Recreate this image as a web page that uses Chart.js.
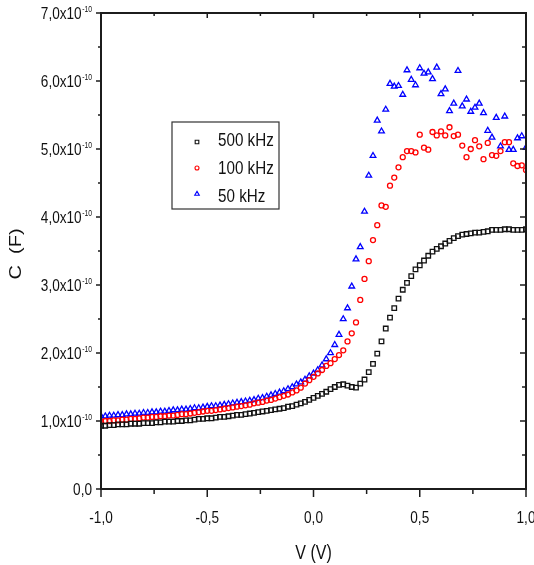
<!DOCTYPE html>
<html>
<head>
<meta charset="utf-8">
<script src="https://cdn.jsdelivr.net/npm/chart.js@4.4.1/dist/chart.umd.min.js"></script>
<style>
  html, body { margin: 0; padding: 0; background: #fff; }
  canvas { display: block; }
</style>
</head>
<body>
<canvas id="cv" width="534" height="565"></canvas>
<script>
// bias sweep: -1.0 V to 1.0 V in 0.02 V steps
var vStart = -1.0, vStep = 0.02, vCount = 101;

// capacitance, in units of 1e-10 F
var C500 = [
  0.93,0.93,0.94,0.94,0.95,0.95,0.95,0.96,0.96,0.96,
  0.97,0.97,0.97,0.98,0.98,0.99,0.99,0.99,1.00,1.00,
  1.01,1.01,1.02,1.03,1.03,1.04,1.04,1.05,1.06,1.06,
  1.07,1.08,1.09,1.09,1.10,1.11,1.12,1.13,1.14,1.15,
  1.16,1.17,1.18,1.19,1.21,1.22,1.24,1.26,1.28,1.31,
  1.34,1.37,1.40,1.43,1.47,1.50,1.53,1.54,1.52,1.50,
  1.49,1.55,1.61,1.72,1.84,1.99,2.17,2.36,2.52,2.66,
  2.80,2.93,3.03,3.13,3.23,3.29,3.36,3.43,3.49,3.53,
  3.57,3.61,3.65,3.69,3.72,3.74,3.75,3.76,3.77,3.77,
  3.78,3.79,3.81,3.81,3.81,3.82,3.82,3.81,3.81,3.81,3.82
];
var C100 = [
  0.99,1.00,1.00,1.01,1.01,1.02,1.02,1.03,1.03,1.04,
  1.05,1.05,1.06,1.06,1.07,1.07,1.08,1.08,1.09,1.10,
  1.10,1.11,1.12,1.13,1.14,1.15,1.15,1.16,1.17,1.18,
  1.19,1.20,1.21,1.22,1.23,1.24,1.26,1.27,1.28,1.30,
  1.31,1.33,1.35,1.37,1.39,1.42,1.45,1.49,1.55,1.60,
  1.65,1.70,1.75,1.81,1.85,1.91,1.97,2.04,2.17,2.29,
  2.45,2.78,3.09,3.35,3.66,3.88,4.17,4.15,4.46,4.58,
  4.73,4.88,4.97,4.97,4.95,5.21,5.02,4.99,5.25,5.20,
  5.26,5.20,5.32,5.19,5.21,5.05,4.88,5.00,5.13,5.04,
  4.85,5.09,4.91,4.90,4.97,5.10,5.10,4.79,4.75,4.76,4.69
];
var C50 = [
  1.07,1.07,1.08,1.08,1.09,1.09,1.10,1.10,1.11,1.11,
  1.12,1.12,1.13,1.13,1.14,1.14,1.15,1.16,1.16,1.17,
  1.17,1.18,1.19,1.19,1.20,1.21,1.22,1.22,1.23,1.24,
  1.25,1.26,1.27,1.28,1.29,1.30,1.31,1.33,1.34,1.36,
  1.38,1.40,1.42,1.44,1.47,1.50,1.54,1.57,1.61,1.66,
  1.70,1.75,1.82,1.91,2.00,2.12,2.27,2.50,2.66,2.98,
  3.38,3.56,4.08,4.61,4.90,5.42,5.26,5.58,5.96,5.92,
  5.93,5.80,6.16,6.02,5.94,6.19,6.11,6.13,6.03,6.20,
  5.81,5.88,5.56,5.67,6.15,5.63,5.73,5.55,5.61,5.67,
  5.53,5.27,5.17,5.46,5.04,5.48,4.99,4.99,5.16,5.19,5.02
];

var seriesNames = ["500 kHz", "100 kHz", "50 kHz"];

var xTicks = [-1, -0.5, 0, 0.5, 1];
var xTickLabels = ["-1,0", "-0,5", "0,0", "0,5", "1,0"];
var xMinor = [-0.75, -0.25, 0.25, 0.75];
var yTicks = [0, 1, 2, 3, 4, 5, 6, 7];
var yTickLabels = ["0,0", "1,0x10", "2,0x10", "3,0x10", "4,0x10", "5,0x10", "6,0x10", "7,0x10"];
var yTickExp = ["", "-10", "-10", "-10", "-10", "-10", "-10", "-10"];
var yMinor = [0.5, 1.5, 2.5, 3.5, 4.5, 5.5, 6.5];

var xTitle = "V (V)";
var yTitle = "C  (F)";

var voltage = [];
for (var i = 0; i < vCount; i++) voltage.push(+(vStart + i * vStep).toFixed(2));

function pts(arr) {
  return arr.map(function (c, i) { return { x: voltage[i], y: c }; });
}

var FONT = "'Liberation Sans', Arial, sans-serif";
var SQ = 0.8; // all lettering is drawn condensed

function text(ctx, str, x, y, size, align, base) {
  ctx.save();
  ctx.font = size + "px " + FONT;
  ctx.textAlign = align;
  ctx.textBaseline = base;
  ctx.translate(x, y);
  ctx.scale(SQ, 1);
  ctx.fillText(str, 0, 0);
  ctx.restore();
}
function width(ctx, str, size) {
  ctx.save();
  ctx.font = size + "px " + FONT;
  var w = ctx.measureText(str).width * SQ;
  ctx.restore();
  return w;
}

// frame, ticks, labels and legend box
var frame = {
  id: "frame",
  afterDraw: function (chart) {
    var ctx = chart.ctx, a = chart.chartArea;
    var xs = chart.scales.x, ys = chart.scales.y;
    ctx.save();
    ctx.strokeStyle = "#1c1c1c";
    ctx.fillStyle = "#111";

    // ticks
    ctx.lineWidth = 1.5;
    ctx.beginPath();
    xTicks.forEach(function (v) {
      var px = xs.getPixelForValue(v);
      ctx.moveTo(px, a.bottom); ctx.lineTo(px, a.bottom + 8);
      ctx.moveTo(px, a.top); ctx.lineTo(px, a.top + 5);
    });
    xMinor.forEach(function (v) {
      var px = xs.getPixelForValue(v);
      ctx.moveTo(px, a.bottom); ctx.lineTo(px, a.bottom + 5);
      ctx.moveTo(px, a.top); ctx.lineTo(px, a.top + 3);
    });
    yTicks.forEach(function (v) {
      var py = ys.getPixelForValue(v);
      ctx.moveTo(a.left, py); ctx.lineTo(a.left - 5, py);
      ctx.moveTo(a.right, py); ctx.lineTo(a.right - 6, py);
    });
    yMinor.forEach(function (v) {
      var py = ys.getPixelForValue(v);
      ctx.moveTo(a.left, py); ctx.lineTo(a.left - 3, py);
      ctx.moveTo(a.right, py); ctx.lineTo(a.right - 4, py);
    });
    ctx.stroke();

    // box
    ctx.lineWidth = 2;
    ctx.strokeRect(a.left, a.top, a.right - a.left, a.bottom - a.top);

    // x tick labels
    xTicks.forEach(function (v, i) {
      text(ctx, xTickLabels[i], xs.getPixelForValue(v), a.bottom + 34, 17, "center", "alphabetic");
    });

    // y tick labels with superscript exponent
    var R = a.left - 9;
    yTicks.forEach(function (v, i) {
      var py = ys.getPixelForValue(v);
      if (yTickExp[i]) {
        var ew = width(ctx, yTickExp[i], 8.5);
        text(ctx, yTickExp[i], R - ew, py - 1, 8.5, "left", "alphabetic");
        text(ctx, yTickLabels[i], R - ew - 0.5, py + 6, 17, "right", "alphabetic");
      } else {
        text(ctx, yTickLabels[i], R, py + 6, 17, "right", "alphabetic");
      }
    });

    // axis titles
    text(ctx, xTitle, (a.left + a.right) / 2, 559, 20, "center", "alphabetic");
    ctx.save();
    ctx.translate(17, 254);
    ctx.rotate(-Math.PI / 2);
    ctx.scale(1, SQ);
    ctx.font = "20px " + FONT;
    ctx.textAlign = "center";
    ctx.textBaseline = "middle";
    ctx.fillText(yTitle, 0, 0);
    ctx.restore();

    // legend
    ctx.lineWidth = 1.2;
    ctx.strokeStyle = "#333";
    ctx.strokeRect(172, 122, 107, 87);
    var rowsMark = [142, 168, 194];
    var rowsText = [146, 174, 202];
    chart.data.datasets.forEach(function (ds, i) {
      ctx.save();
      ctx.strokeStyle = ds.borderColor;
      ctx.fillStyle = "rgba(0,0,0,0)";
      ctx.lineWidth = 1.1;
      Chart.helpers.drawPoint(ctx, { pointStyle: ds.pointStyle, radius: ds.pointRadius * 0.8, rotation: 0, borderWidth: 1 }, 197, rowsMark[i]);
      ctx.restore();
      text(ctx, ds.label, 218, rowsText[i], 19, "left", "alphabetic");
    });
    ctx.restore();
  }
};

var ctx = document.getElementById("cv");

var chart = new Chart(ctx, {
  type: "scatter",
  data: {
    datasets: [
      {
        label: seriesNames[0],
        data: pts(C500),
        pointStyle: "rect",
        pointRadius: 3.2,
        borderColor: "#111111",
        backgroundColor: "rgba(0,0,0,0)",
        borderWidth: 1.3
      },
      {
        label: seriesNames[1],
        data: pts(C100),
        pointStyle: "circle",
        pointRadius: 2.5,
        borderColor: "#ff0000",
        backgroundColor: "rgba(0,0,0,0)",
        borderWidth: 1.3
      },
      {
        label: seriesNames[2],
        data: pts(C50),
        pointStyle: "triangle",
        pointRadius: 3.3,
        borderColor: "#0000ff",
        backgroundColor: "rgba(0,0,0,0)",
        borderWidth: 1.3
      }
    ]
  },
  options: {
    responsive: false,
    animation: false,
    layout: { padding: { left: 101, right: 8, top: 13, bottom: 76 } },
    scales: {
      x: { type: "linear", min: -1, max: 1, display: false },
      y: { type: "linear", min: 0, max: 7, display: false }
    },
    plugins: {
      legend: { display: false },
      tooltip: { enabled: false }
    }
  },
  plugins: [frame]
});
</script>
</body>
</html>
